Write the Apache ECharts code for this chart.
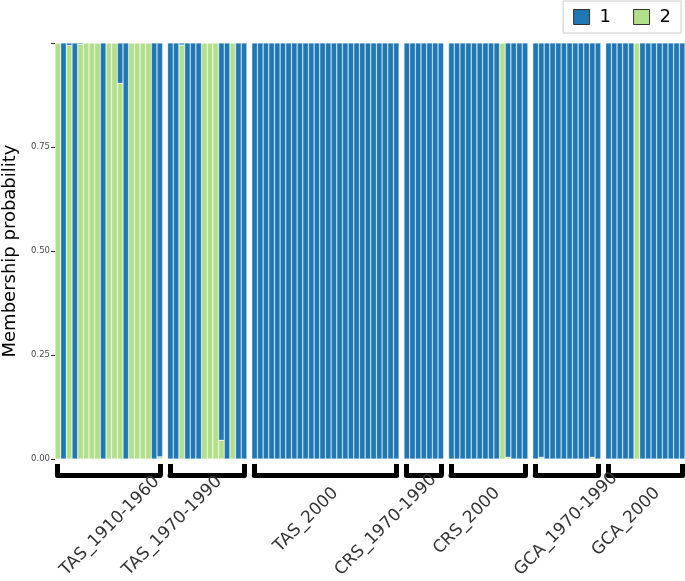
<!DOCTYPE html>
<html><head><meta charset="utf-8">
<script src="https://cdn.jsdelivr.net/npm/echarts@6/dist/echarts.min.js"></script>
<style>html,body{margin:0;padding:0;background:#fff}#c{width:685px;height:581px}</style>
</head><body><div id="c"></div>
<script>
// Facet (population) labels
const groups = ['TAS_1910-1960','TAS_1970-1990','TAS_2000','CRS_1970-1990','CRS_2000','GCA_1970-1990','GCA_2000'];
// Cluster labels
const clusters = ['1','2'];

// Membership probabilities per individual, cluster 1 (blue) and cluster 2 (green)
const tas1910_c1 = [0, 1, 0.006, 1, 0.003, 0, 0, 0, 1, 0, 0, 0.097, 1, 0, 0, 0, 0, 1, 0.995];
const tas1910_c2 = [1, 0, 0.994, 0, 0.997, 1, 1, 1, 0, 1, 1, 0.903, 0, 1, 1, 1, 1, 0, 0.005];
const tas1970_c1 = [1, 1, 0.005, 1, 1, 1, 0, 0, 0, 0.955, 1, 0, 1, 1];
const tas1970_c2 = [0, 0, 0.995, 0, 0, 0, 1, 1, 1, 0.045, 0, 1, 0, 0];
const tas2000_c1 = [1,1,1,1,1,1,1,1,1,1,1,1,1,1,1,1,1,1,1,1,1,1,1,1,1,1];
const tas2000_c2 = [0,0,0,0,0,0,0,0,0,0,0,0,0,0,0,0,0,0,0,0,0,0,0,0,0,0];
const crs1970_c1 = [1,1,1,1,1,1,1];
const crs1970_c2 = [0,0,0,0,0,0,0];
const crs2000_c1 = [1,1,1,1,1,1,1,1,1,0,0.996,1,1,1];
const crs2000_c2 = [0,0,0,0,0,0,0,0,0,1,0.004,0,0,0];
const gca1970_c1 = [1,0.996,1,1,1,1,1,1,1,1,0.996,1];
const gca1970_c2 = [0,0.004,0,0,0,0,0,0,0,0,0.004,0];
const gca2000_c1 = [1,1,1,1,1,0,1,1,1,1,1,1,1,1];
const gca2000_c2 = [0,0,0,0,0,1,0,0,0,0,0,0,0,0];

const c1Sets = [tas1910_c1, tas1970_c1, tas2000_c1, crs1970_c1, crs2000_c1, gca1970_c1, gca2000_c1];
const c2Sets = [tas1910_c2, tas1970_c2, tas2000_c2, crs1970_c2, crs2000_c2, gca1970_c2, gca2000_c2];

const COL1 = '#1f78b4', COL2 = '#b2df8a';
const FONT = 'DejaVu Sans';

// layout (style only)
const plotLeft = 55, plotRight = 685, facetGap = 4.9, plotTop = 43, plotH = 416;
const bracketW = 5, bracketOffset = 16.5;
const labelShiftPx = [42, 6, 4, 4, 3, 42, 6];
const nTotal = c1Sets.reduce((s, a) => s + a.length, 0);
const barW = (plotRight - plotLeft - facetGap * (groups.length - 1)) / nTotal;

const G = groups.length;
const grids = new Array(3 * G), xAxes = new Array(3 * G), yAxes = new Array(3 * G), series = [];
let cum = 0;
for (let i = 0; i < G; i++) {
  const g = groups[i];
  const n = c1Sets[i].length;
  const left = plotLeft + cum * barW + i * facetGap;
  const w = n * barW;
  cum += n;
  // bar grid
  grids[i] = { left: left, width: w, top: plotTop, height: plotH };
  // bracket grid, inset by half the bracket line width
  grids[G + i] = { left: left + bracketW / 2, width: w - bracketW, top: plotTop, height: plotH };
  // label grid
  const cx = left + w / 2 + labelShiftPx[i];
  grids[2 * G + i] = { left: cx - 1, width: 2, top: plotTop, height: plotH };

  const ids = c1Sets[i].map((_, k) => g + '_' + (k + 1));
  xAxes[i] = { type: 'category', gridIndex: i, data: ids, show: false, boundaryGap: true };
  xAxes[G + i] = {
    type: 'category', gridIndex: G + i, data: [g], position: 'bottom', offset: bracketOffset,
    axisLine: { show: true, onZero: false, lineStyle: { color: '#000', width: bracketW } },
    axisTick: { show: true, inside: true, length: 11.5, lineStyle: { color: '#000', width: bracketW } },
    axisLabel: { show: false },
    splitLine: { show: false }
  };
  xAxes[2 * G + i] = {
    type: 'category', gridIndex: 2 * G + i, data: [g], position: 'bottom', offset: bracketOffset,
    axisLine: { show: false, onZero: false },
    axisTick: { show: false },
    axisLabel: { rotate: 45, fontSize: 17, color: '#333', fontFamily: FONT, margin: 9,
      align: 'right', verticalAlign: 'top', interval: 0 },
    splitLine: { show: false }
  };
  yAxes[i] = {
    type: 'value', gridIndex: i, min: 0, max: 1, interval: 0.25,
    show: i === 0,
    axisLine: { show: false },
    axisTick: { show: true, length: 4, lineStyle: { color: '#333', width: 1 } },
    axisLabel: { fontSize: 8.5, color: '#4d4d4d', fontFamily: FONT, margin: 5,
      formatter: v => (v === 1 ? '' : v.toFixed(2)) },
    splitLine: { show: false },
    name: i === 0 ? 'Membership probability' : '',
    nameLocation: 'middle', nameGap: 36,
    nameTextStyle: { fontSize: 18, color: '#000', fontFamily: FONT }
  };
  yAxes[G + i] = { type: 'value', gridIndex: G + i, min: 0, max: 1, show: false, splitLine: { show: false } };
  yAxes[2 * G + i] = { type: 'value', gridIndex: 2 * G + i, min: 0, max: 1, show: false, splitLine: { show: false } };

  const common = {
    type: 'bar', stack: 'g' + i, xAxisIndex: i, yAxisIndex: i,
    barCategoryGap: '0%', silent: true, animation: false
  };
  series.push(Object.assign({}, common, {
    name: clusters[1], data: c2Sets[i],
    itemStyle: { color: COL2, borderColor: 'rgba(255,255,255,0.45)', borderWidth: 0.6 }
  }));
  series.push(Object.assign({}, common, {
    name: clusters[0], data: c1Sets[i],
    itemStyle: { color: COL1, borderColor: 'rgba(255,255,255,0.45)', borderWidth: 0.6 }
  }));
}

const chart = echarts.init(document.getElementById('c'), null, { renderer: 'canvas' });
chart.setOption({
  animation: false,
  backgroundColor: '#fff',
  legend: {
    data: clusters, right: 4, top: 1, orient: 'horizontal',
    icon: 'rect', itemWidth: 16, itemHeight: 15, itemGap: 22,
    padding: [7, 10, 7, 10],
    borderColor: '#cccccc', borderWidth: 1,
    itemStyle: { borderColor: '#333', borderWidth: 1 },
    textStyle: { fontSize: 18, color: '#000', fontFamily: FONT, padding: [0, 0, 0, 5] },
    selectedMode: false
  },
  grid: grids, xAxis: xAxes, yAxis: yAxes, series: series
});
</script></body></html>
